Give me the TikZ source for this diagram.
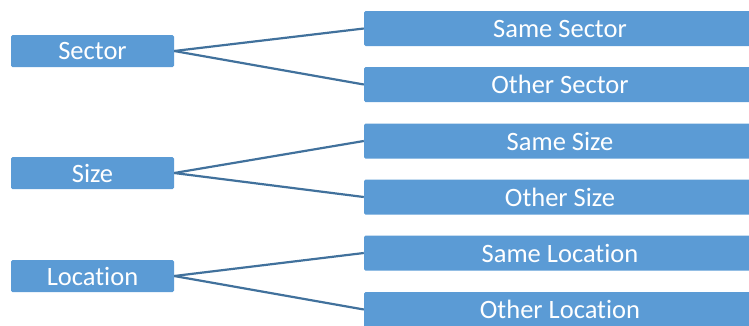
\documentclass[tikz,border=0pt]{standalone}
\usepackage{fontspec}
\setmainfont[RawFeature=-liga]{Carlito}
\usetikzlibrary{positioning}

\definecolor{boxblue}{HTML}{5B9BD5}
\definecolor{lineblue}{HTML}{41719C}

\begin{document}
\begin{tikzpicture}[x=1pt, y=-1pt,
    catbox/.style={fill=boxblue, rounded corners=1.5pt, text=white, minimum width=163pt, minimum height=32pt, inner sep=0pt, font=\fontsize{26.5}{30}\selectfont},
    optbox/.style={fill=boxblue, rounded corners=1.5pt, text=white, minimum width=392pt, minimum height=35pt, inner sep=0pt, font=\fontsize{26.5}{30}\selectfont},
    link/.style={draw=lineblue, line width=2.2pt}]
  \useasboundingbox (0,0) rectangle (749,325);
  \node[catbox] (sector) at (92.5,51) {Sector};
  \node[catbox] (size) at (92.5,173) {Size};
  \node[catbox] (location) at (92.5,276) {Location};
  \node[optbox] (samesector) at (560,28.5) {Same Sector};
  \node[optbox] (othersector) at (560,84.5) {Other Sector};
  \node[optbox] (samesize) at (560,141) {Same Size};
  \node[optbox] (othersize) at (560,197) {Other Size};
  \node[optbox] (samelocation) at (560,253) {Same Location};
  \node[optbox] (otherlocation) at (560,309.5) {Other Location};
  \draw[link] (sector.east) -- (samesector.west);
  \draw[link] (sector.east) -- (othersector.west);
  \draw[link] (size.east) -- (samesize.west);
  \draw[link] (size.east) -- (othersize.west);
  \draw[link] (location.east) -- (samelocation.west);
  \draw[link] (location.east) -- (otherlocation.west);
\end{tikzpicture}
\end{document}
